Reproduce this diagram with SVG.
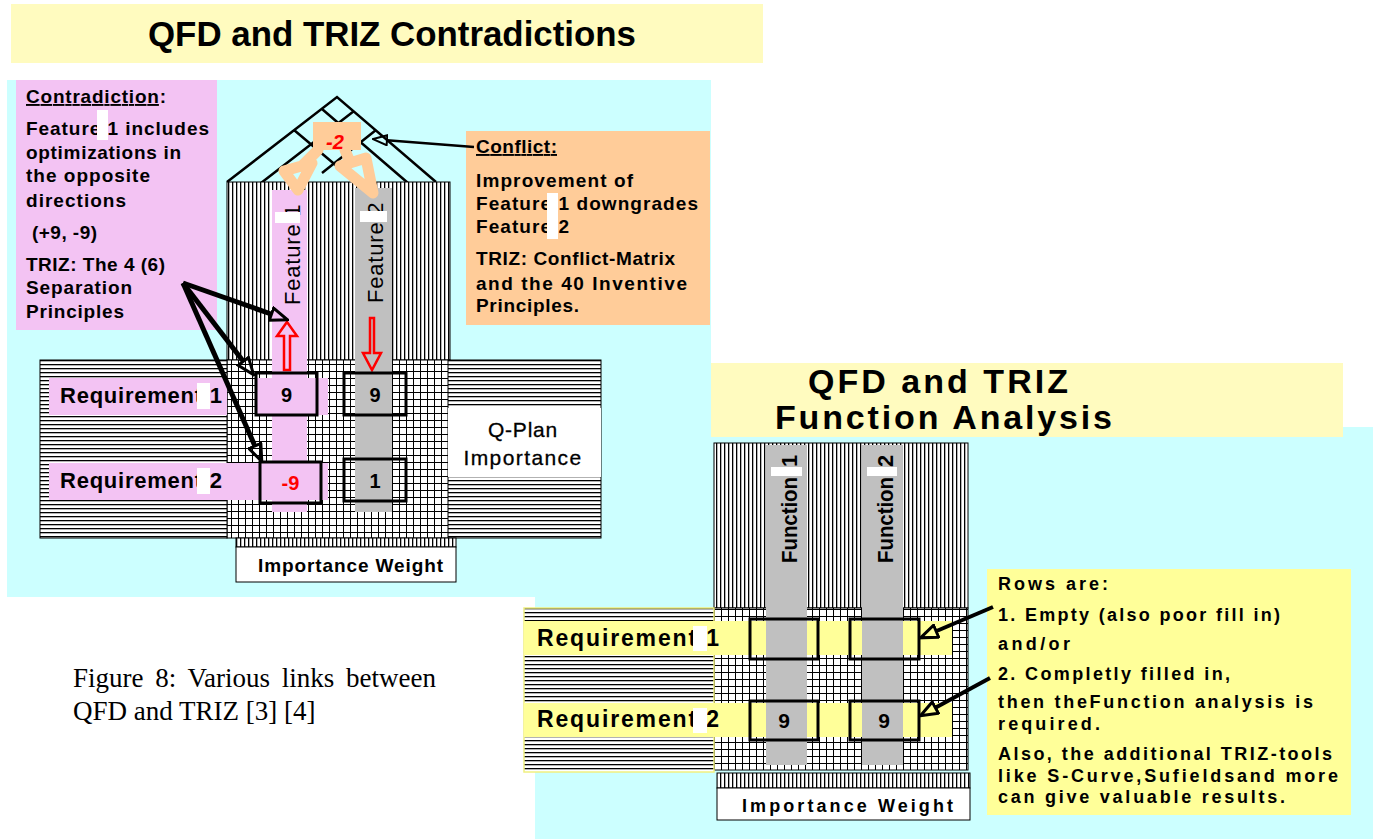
<svg xmlns="http://www.w3.org/2000/svg" width="1373" height="839" viewBox="0 0 1373 839">
<defs>
<style>
.t{font-family:"Liberation Sans",Arial,sans-serif;font-weight:bold;fill:#000}
.n{font-family:"Liberation Sans",Arial,sans-serif;fill:#000}
.ln{stroke:#000;stroke-width:2.5;fill:none}
.box{fill:none;stroke:#000;stroke-width:3}
.con{stroke:#000;fill:none}
.red{fill:none;stroke:#f00;stroke-width:2.5;stroke-linejoin:miter}
.peach{fill:none;stroke:#ffcc99;stroke-width:11;stroke-linejoin:round;stroke-linecap:round}
</style>
<pattern id="vl" width="4" height="10" patternUnits="userSpaceOnUse"><rect width="4" height="10" fill="#fff"/><rect x="0" width="1.3" height="10" fill="#000"/></pattern>
<pattern id="hl" width="10" height="4" patternUnits="userSpaceOnUse"><rect width="10" height="4" fill="#fff"/><rect y="0" width="10" height="1.3" fill="#000"/></pattern>
<pattern id="grid" width="7" height="7" patternUnits="userSpaceOnUse"><rect width="7" height="7" fill="#fff"/><path d="M0,0.5H7M0.5,0V7" stroke="#000" stroke-width="1"/></pattern>
<marker id="ah" viewBox="0 0 20 16" refX="1" refY="8" markerWidth="20" markerHeight="16" markerUnits="userSpaceOnUse" orient="auto"><path d="M1.5,1.5 L18.5,8 L1.5,14.5 Z" fill="none" stroke="#000" stroke-width="3"/></marker>
<marker id="ahs" viewBox="0 0 16 12" refX="1" refY="6" markerWidth="16" markerHeight="12" markerUnits="userSpaceOnUse" orient="auto"><path d="M1,1 L15,6 L1,11 Z" fill="none" stroke="#000" stroke-width="2"/></marker>
</defs>
<rect width="1373" height="839" fill="#fff"/>
<g id="panels">
<rect x="7" y="80" width="704" height="517" fill="#ccffff"/>
<rect x="535" y="427" width="838" height="412" fill="#ccffff"/>
</g>
<g id="title1">
<rect x="11" y="4" width="752" height="59" fill="#fffbbf"/>
<text class="t" x="148" y="46" font-size="35" textLength="488" lengthAdjust="spacingAndGlyphs">QFD and TRIZ  Contradictions</text>
</g>
<g id="title2">
<rect x="711" y="363" width="632" height="74" fill="#fffbbf"/>
<text class="t" x="808" y="393" font-size="34" textLength="260" lengthAdjust="spacing">QFD and TRIZ</text>
<text class="t" x="775" y="429" font-size="34" textLength="337" lengthAdjust="spacing">Function Analysis</text>
</g>
<g id="contradiction-note">
<rect x="16" y="80" width="201" height="250" fill="#f3c3f3"/>
<text class="t" font-size="19" x="26" y="103" textLength="140" lengthAdjust="spacing"><tspan text-decoration="underline">Contradiction</tspan>:</text>
<text class="t" font-size="19" x="26" y="135" textLength="183" lengthAdjust="spacing">Feature 1 includes</text>
<rect x="97" y="110" width="11" height="30" fill="#fff"/>
<text class="t" font-size="19" x="26" y="159" textLength="155" lengthAdjust="spacing">optimizations in</text>
<text class="t" font-size="19" x="26" y="182" textLength="124" lengthAdjust="spacing">the opposite</text>
<text class="t" font-size="19" x="26" y="207" textLength="100" lengthAdjust="spacing">directions</text>
<text class="t" font-size="19" x="32" y="239" textLength="65" lengthAdjust="spacing">(+9, -9)</text>
<text class="t" font-size="19" x="26" y="271" textLength="139" lengthAdjust="spacing">TRIZ: The 4 (6)</text>
<text class="t" font-size="19" x="26" y="294" textLength="106" lengthAdjust="spacing">Separation</text>
<text class="t" font-size="19" x="26" y="318" textLength="98" lengthAdjust="spacing">Principles</text>
</g>
<g id="conflict-note">
<rect x="466" y="131" width="244" height="194" fill="#ffcc99"/>
<text class="t" font-size="19" x="476" y="153" textLength="81" lengthAdjust="spacing"><tspan text-decoration="underline">Conflict:</tspan></text>
<text class="t" font-size="19" x="476" y="187" textLength="157" lengthAdjust="spacing">Improvement of</text>
<text class="t" font-size="19" x="476" y="210" textLength="222" lengthAdjust="spacing">Feature 1 downgrades</text>
<text class="t" font-size="19" x="476" y="233" textLength="93" lengthAdjust="spacing">Feature 2</text>
<rect x="547" y="193" width="11" height="46" fill="#fff"/>
<text class="t" font-size="19" x="476" y="265" textLength="199" lengthAdjust="spacing">TRIZ: Conflict-Matrix</text>
<text class="t" font-size="19" x="476" y="290" textLength="211" lengthAdjust="spacing">and the 40 Inventive</text>
<text class="t" font-size="19" x="476" y="312" textLength="103" lengthAdjust="spacing">Principles.</text>
</g>
<g id="house1">
<path class="ln" d="M227,182 L337,97 L436,182 M261,183 L354,111 M408,183 L322,109 M294,130 L345,173 M376,130 L322,173"/>
<rect x="227" y="182" width="223" height="178" fill="url(#vl)" stroke="#000" stroke-width="1"/>
<rect x="227" y="360" width="223" height="178" fill="url(#grid)" stroke="#000" stroke-width="1"/>
<rect x="40" y="360" width="187" height="178" fill="url(#hl)" stroke="#000" stroke-width="1"/>
<rect x="448" y="360" width="153" height="178" fill="url(#hl)" stroke="#000" stroke-width="1"/>
<rect x="448" y="408" width="153" height="69" fill="#fff"/>
<text class="n" font-size="21" x="523" y="437" text-anchor="middle" letter-spacing="0.8" stroke="#000" stroke-width="0.3">Q-Plan</text>
<text class="n" font-size="21" x="523" y="465" text-anchor="middle" letter-spacing="1.4" stroke="#000" stroke-width="0.3">Importance</text>
<rect x="236" y="538" width="220" height="9" fill="url(#vl)" stroke="#000" stroke-width="1"/>
<rect x="236" y="547" width="220" height="35" fill="#fff" stroke="#000" stroke-width="1"/>
<text class="t" font-size="19" x="258" y="572" textLength="185" lengthAdjust="spacing">Importance Weight</text>
</g>
<g id="feature1">
<rect x="49" y="378" width="178" height="37" fill="#f3c3f3"/>
<rect x="256" y="378" width="72" height="37" fill="#f3c3f3"/>
<rect x="49" y="463" width="279" height="37" fill="#f3c3f3"/>
<rect x="272" y="190" width="35" height="322" fill="#f3c3f3"/>
<text class="n" font-size="22" letter-spacing="0.8" transform="translate(300,305) rotate(-90)">Feature 1</text>
<rect x="275" y="212" width="25" height="11" fill="#fff"/>
<path class="red" d="M287,322 L297,336 L290,336 L290,370 L284,370 L284,336 L277,336 Z"/>
</g>
<g id="feature2">
<rect x="355" y="188" width="37" height="324" fill="#c0c0c0"/>
<text class="n" font-size="22" letter-spacing="0.8" transform="translate(383,303) rotate(-90)">Feature 2</text>
<rect x="360" y="211" width="27" height="11" fill="#fff"/>
<path class="red" d="M370,318 L374,318 L374,353 L381,353 L372,370 L363,353 L370,353 Z"/>
</g>
<g id="requirements1">
<text class="t" font-size="22" x="60" y="403" textLength="162" lengthAdjust="spacing">Requirement 1</text>
<rect x="197" y="383" width="13" height="26" fill="#fff"/>
<text class="t" font-size="22" x="60" y="488" textLength="162" lengthAdjust="spacing">Requirement 2</text>
<rect x="197" y="468" width="13" height="26" fill="#fff"/>
</g>
<g id="cells1">
<rect class="box" x="256" y="373" width="61" height="42"/>
<text class="t" font-size="20" x="286.5" y="402" text-anchor="middle">9</text>
<rect class="box" x="260" y="462" width="61" height="41"/>
<text class="t" font-size="20" x="290.5" y="490" text-anchor="middle" style="fill:#f00">-9</text>
<rect class="box" x="344" y="373" width="62" height="42"/>
<text class="t" font-size="20" x="375" y="402" text-anchor="middle">9</text>
<rect class="box" x="344" y="459" width="62" height="42"/>
<text class="t" font-size="20" x="375" y="488" text-anchor="middle">1</text>
</g>
<g id="correlation">
<path class="peach" d="M318,150 L302,166 M284,171 L312,163 L298,190 Z"/>
<path class="peach" d="M345,150 L350,162 M340,166 L366,158 L373,193 Z"/>
<rect x="313" y="122" width="48" height="28" fill="#ffcc99"/>
<text class="t" font-size="20" x="335" y="149" text-anchor="middle" style="fill:#f00;font-style:italic">-2</text>
</g>
<g id="house2">
<rect x="714" y="443" width="254" height="165" fill="url(#vl)" stroke="#000" stroke-width="1"/>
<rect x="714" y="608" width="254" height="162" fill="url(#grid)" stroke="#000" stroke-width="1"/>
<rect x="524" y="608" width="190" height="164" fill="url(#hl)" stroke="#f0f080" stroke-width="1.5"/>
<rect x="717" y="773" width="253" height="15" fill="url(#vl)" stroke="#000" stroke-width="1"/>
<rect x="717" y="788" width="253" height="32" fill="#fff" stroke="#000" stroke-width="1"/>
<text class="t" font-size="18" x="742" y="812" textLength="211" lengthAdjust="spacing">Importance Weight</text>
<rect x="524" y="621" width="428" height="34" fill="#ffff99"/>
<rect x="524" y="703" width="428" height="34" fill="#ffff99"/>
</g>
<g id="function1">
<rect x="766" y="445" width="41" height="320" fill="#c0c0c0"/>
<text class="t" font-size="22" transform="translate(797,563) rotate(-90)"><tspan x="0" textLength="86" lengthAdjust="spacingAndGlyphs">Function</tspan><tspan x="90"> 1</tspan></text>
<rect x="771" y="467" width="31" height="9" fill="#fff"/>
</g>
<g id="function2">
<rect x="862" y="445" width="41" height="320" fill="#c0c0c0"/>
<text class="t" font-size="22" transform="translate(893,563) rotate(-90)"><tspan x="0" textLength="86" lengthAdjust="spacingAndGlyphs">Function</tspan><tspan x="90"> 2</tspan></text>
<rect x="867" y="467" width="30" height="9" fill="#fff"/>
</g>
<g id="requirements2">
<text class="t" font-size="23" x="537" y="646" textLength="182" lengthAdjust="spacing">Requirement 1</text>
<rect x="693" y="626" width="14" height="25" fill="#fff"/>
<text class="t" font-size="23" x="537" y="727" textLength="182" lengthAdjust="spacing">Requirement 2</text>
<rect x="693" y="708" width="14" height="25" fill="#fff"/>
</g>
<g id="cells2">
<rect class="box" x="750" y="619" width="68" height="40"/>
<rect class="box" x="850" y="619" width="69" height="40"/>
<rect class="box" x="750" y="701" width="68" height="39"/>
<text class="t" font-size="21" x="784" y="728" text-anchor="middle">9</text>
<rect class="box" x="850" y="701" width="69" height="39"/>
<text class="t" font-size="21" x="884" y="728" text-anchor="middle">9</text>
</g>
<g id="rows-note">
<rect x="987" y="569" width="364" height="246" fill="#ffff99"/>
<text class="t" font-size="18" x="998" y="590" textLength="110" lengthAdjust="spacing">Rows are:</text>
<text class="t" font-size="18" x="998" y="621" textLength="282" lengthAdjust="spacing">1. Empty (also poor fill in)</text>
<text class="t" font-size="18" x="998" y="650" textLength="72" lengthAdjust="spacing">and/or</text>
<text class="t" font-size="18" x="998" y="680" textLength="232" lengthAdjust="spacing">2. Completly filled in,</text>
<text class="t" font-size="18" x="998" y="708" textLength="315" lengthAdjust="spacing">then theFunction analysis is</text>
<text class="t" font-size="18" x="998" y="730" textLength="102" lengthAdjust="spacing">required.</text>
<text class="t" font-size="18" x="998" y="760" textLength="334" lengthAdjust="spacing">Also, the additional TRIZ-tools</text>
<text class="t" font-size="18" x="998" y="782" textLength="340" lengthAdjust="spacing">like S-Curve,Sufieldsand more</text>
<text class="t" font-size="18" x="998" y="803" textLength="287" lengthAdjust="spacing">can give valuable results.</text>
</g>
<g id="caption">
<text font-family="'Liberation Serif','Times New Roman',serif" font-size="27" x="73" y="687" word-spacing="5">Figure 8: Various links between</text>
<text font-family="'Liberation Serif','Times New Roman',serif" font-size="27" x="73" y="720">QFD and TRIZ [3] [4]</text>
</g>
<g id="connectors">
<line class="con" stroke-width="5" x1="183" y1="283" x2="271" y2="314" marker-end="url(#ah)"/>
<line class="con" stroke-width="5" x1="183" y1="283" x2="243" y2="361" marker-end="url(#ah)"/>
<line class="con" stroke-width="5" x1="183" y1="283" x2="254.7" y2="445.5" marker-end="url(#ah)"/>
<line class="con" stroke-width="2.5" x1="474" y1="147" x2="387" y2="140.2" marker-end="url(#ahs)"/>
<line class="con" stroke-width="4" x1="993" y1="607" x2="936.6" y2="631" marker-end="url(#ah)"/>
<line class="con" stroke-width="4" x1="990" y1="678" x2="935.8" y2="707.4" marker-end="url(#ah)"/>
</g>
</svg>
